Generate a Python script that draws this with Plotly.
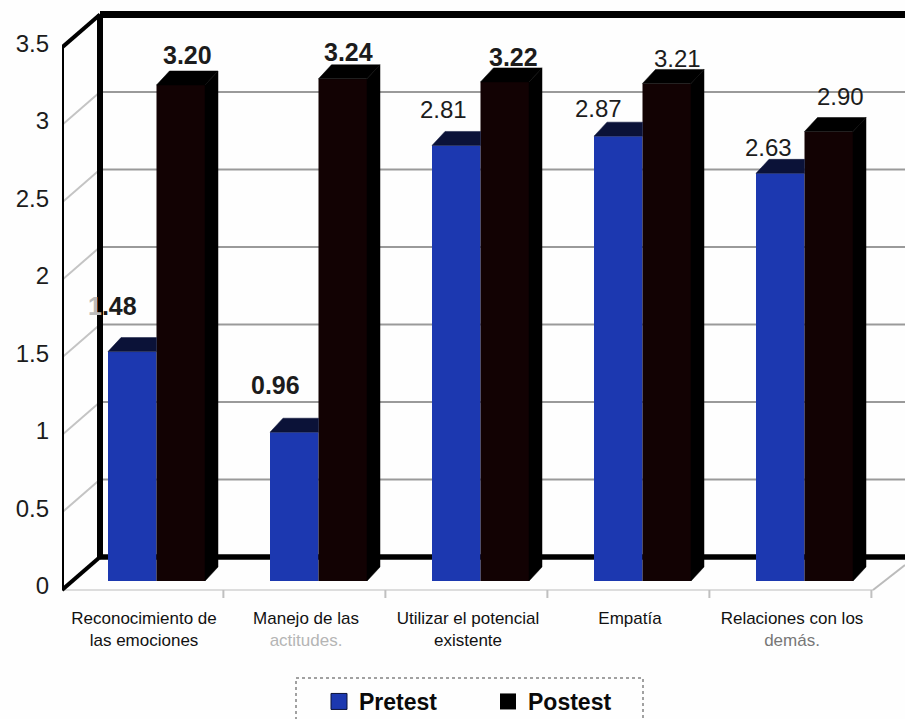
import plotly.graph_objects as go

categories = [
    "Reconocimiento de<br>las emociones",
    'Manejo de las<br><span style="color:#b5b5b5">actitudes.</span>',
    "Utilizar el potencial<br>existente",
    "Empatía",
    'Relaciones con los<br><span style="color:#777777">demás.</span>',
]
pretest = [1.48, 0.96, 2.81, 2.87, 2.63]
postest = [3.20, 3.24, 3.22, 3.21, 2.90]
y_ticks = [0, 0.5, 1, 1.5, 2, 2.5, 3, 3.5]
y_tick_labels = ["0", "0.5", "1", "1.5", "2", "2.5", "3", "3.5"]

# label styling / nudges (pixels)
pre_text = ['<b><span style="color:#bbbbbb">1</span>.48</b>', "<b>0.96</b>", "2.81", "2.87", "2.63"]
post_text = ["<b>3.20</b>", "<b>3.24</b>", "<b>3.22</b>", "3.21", "2.90"]
pre_lift = [46, 47, 36, 28, 26]
post_lift = [30, 27, 25, 25, 35]
pre_side = [-20, -19, -13, -20, -12]
post_side = [2, 1, 4, 6, 7]

# geometry in pixels, converted to axis units
PX_X, PX_Y = 162.0, 155.0
W, H = 905, 719
L, R, T, B = 62, 905, 5, 600
X0_PX, Y0_PX = 144, 581
ux = lambda p: (p - X0_PX) / PX_X
uy = lambda p: (Y0_PX - p) / PX_Y

BAR_W = 48.5 / PX_X
PRE_OFF = -36 / PX_X
POST_OFF = PRE_OFF + BAR_W
DX, DY = 13 / PX_X, 14 / PX_Y

BLUE, NAVY, BLACK, FRONT = "#1c38b0", "#0b1238", "#000000", "#120203"
FONT = "Liberation Sans"
INK = "#1c1c1c"

xs = list(range(len(categories)))
fig = go.Figure()

fig.add_bar(x=xs, y=pretest, width=BAR_W, offset=PRE_OFF, marker=dict(color=BLUE, line_width=0),
            showlegend=False, hoverinfo="skip")
fig.add_bar(x=xs, y=postest, width=BAR_W, offset=POST_OFF, marker=dict(color=FRONT, line_width=0),
            showlegend=False, hoverinfo="skip")


def poly(px, py, color):
    fig.add_scatter(x=px, y=py, mode="lines", fill="toself", fillcolor=color,
                    line=dict(color=color, width=0.5), showlegend=False, hoverinfo="skip")


for i, (a, b) in enumerate(zip(pretest, postest)):
    x0, x1 = i + PRE_OFF, i + PRE_OFF + BAR_W
    poly([x0, x0 + DX, x1, x1, x0], [a, a + DY, a + DY, a, a], NAVY)
    x0, x1 = i + POST_OFF, i + POST_OFF + BAR_W
    poly([x0, x0 + DX, x1 + DX, x1, x0], [b, b + DY, b + DY, b, b], BLACK)
    poly([x1, x1 + DX, x1 + DX, x1, x1], [0, DY, b + DY, b, 0], BLACK)

# legend entries
fig.add_scatter(x=[None], y=[None], mode="markers", name="Pretest",
                marker=dict(symbol="square", size=16, color=BLUE, line=dict(color="#0b1238", width=1)))
fig.add_scatter(x=[None], y=[None], mode="markers", name="Postest",
                marker=dict(symbol="square", size=16, color=BLACK))

# data labels
annots = []
for i, (t, v, lift, side) in enumerate(zip(pre_text, pretest, pre_lift, pre_side)):
    annots.append(dict(x=i + PRE_OFF + BAR_W / 2, y=v, yshift=lift, xshift=side, text=t, showarrow=False,
                       font=dict(family=FONT, size=25 if i < 2 else 24, color=INK)))
for i, (t, v, lift, side) in enumerate(zip(post_text, postest, post_lift, post_side)):
    annots.append(dict(x=i + POST_OFF + BAR_W / 2 + 0.03, y=v, yshift=lift, xshift=side, text=t, showarrow=False,
                       font=dict(family=FONT, size=25 if i < 3 else 24, color=INK)))

# chart frame
XL, XB, XE = ux(62), ux(100), ux(905)
Y_FRONT = uy(590)
Y_BACK = uy(557)
shapes = []


def seg(x0, y0, x1, y1, color, width, layer="below", dash="solid"):
    shapes.append(dict(type="line", xref="x", yref="y", x0=x0, y0=y0, x1=x1, y1=y1, layer=layer,
                       line=dict(color=color, width=width, dash=dash)))


for v in y_ticks[1:-1]:
    seg(XB, Y_BACK + v, XE, Y_BACK + v, "#9a9a9a", 2)
    seg(XL, Y_FRONT + v, XB, Y_BACK + v, "#c4c4c4", 2)
top = y_ticks[-1]
seg(XL, Y_FRONT, ux(873), Y_FRONT, "#dddddd", 2)
seg(ux(873), Y_FRONT, XE, uy(565), "#bbbbbb", 2)
for i in xs:
    seg(i + 0.49, Y_FRONT, i + 0.49, uy(598), "#c0c0c0", 2)
seg(XB, Y_BACK, XE, Y_BACK, "#000000", 5.5)
seg(XB, Y_BACK, XB, Y_BACK + top, "#000000", 6)
seg(XB, Y_BACK + top, XE, Y_BACK + top, "#000000", 7)
seg(XL, Y_FRONT, XL, Y_FRONT + top, "#000000", 4)
seg(XL, Y_FRONT + top, XB, Y_BACK + top, "#000000", 4)
seg(XL, Y_FRONT, XB, Y_BACK, "#000000", 4)

# legend box
shapes.append(dict(type="rect", xref="paper", yref="paper",
                   x0=(296 - L) / (R - L), x1=(643 - L) / (R - L),
                   y0=(B - 725) / (B - T), y1=(B - 678) / (B - T),
                   line=dict(color="#444444", width=1, dash="dot"), layer="above"))

fig.update_layout(
    width=W, height=H, autosize=False, paper_bgcolor="#fefefe", plot_bgcolor="rgba(0,0,0,0)",
    margin=dict(l=L, r=W - R, t=T, b=H - B, autoexpand=False),
    barmode="overlay", shapes=shapes, annotations=annots,
    font=dict(family=FONT, color=INK),
    xaxis=dict(range=[ux(L), ux(R)], tickvals=xs, ticktext=categories, showgrid=False, zeroline=False,
               showline=False, ticks="", tickfont=dict(family=FONT, size=17, color="#111111"),
               ticklabelstandoff=6, tickangle=0),
    yaxis=dict(range=[uy(B), uy(T)], tickvals=y_ticks, ticktext=y_tick_labels, showgrid=False,
               zeroline=False, showline=False, ticks="", tickfont=dict(family=FONT, size=24, color=INK),
               ticklabelstandoff=12, ticklabelshift=5),
    legend=dict(orientation="h", x=(319 - L) / (R - L), y=(B - 680) / (B - T), xanchor="left", yanchor="top",
                font=dict(family=FONT, size=23, color="#0a0a0a", weight=700), entrywidth=124, entrywidthmode="pixels",
                bgcolor="rgba(0,0,0,0)", borderwidth=0),
)
fig.write_html("out.html", post_script="document.body.style.margin='0';", config={"displayModeBar": False})
